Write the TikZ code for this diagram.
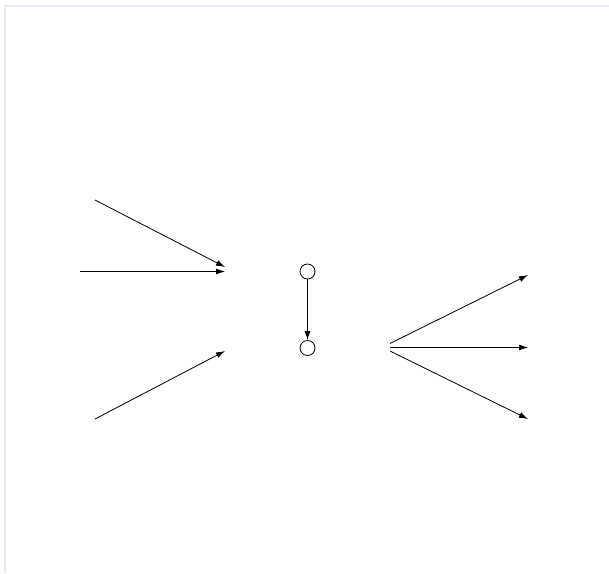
\documentclass[tikz,border=0pt]{standalone}
\usepackage{xcolor}
\usepackage{tikz}
\usetikzlibrary{arrows.meta}
\definecolor{framelav}{RGB}{234, 234, 244}

\begin{document}
\begin{tikzpicture}[x=1pt, y=-1pt, >={Latex[length=9pt, width=6pt]},
        state/.style={circle, draw, line width=0.8pt, minimum size=15pt, inner sep=0pt},
        edge/.style={->, line width=0.8pt}]
        \useasboundingbox (0, 0) rectangle (609, 573);

        % Frame
        \draw[line width=2pt, color=framelav] (5, 573) -- (5, 5.5) -- (609, 5.5);

        % Two states
        \node[state] (top) at (307.5, 271.5) {};
        \node[state] (bot) at (307.5, 348) {};
        \draw[edge] (top) -- (bot);

        % Incoming edges (left)
        \coordinate (inA) at (95, 200);
        \coordinate (inB) at (80, 271.5);
        \coordinate (inC) at (95, 419);
        \coordinate (endA) at (225, 267);
        \coordinate (endB) at (225, 271.5);
        \coordinate (endC) at (225, 351);
        \foreach \s/\e in {inA/endA, inB/endB, inC/endC} {
            \draw[edge] (\s) -- (\e);
        }

        % Outgoing edges (right)
        \coordinate (outA) at (390, 343.5);
        \coordinate (outB) at (390, 347.5);
        \coordinate (outC) at (390, 351);
        \coordinate (tipA) at (528, 275);
        \coordinate (tipB) at (528, 347.5);
        \coordinate (tipC) at (528, 419);
        \foreach \s/\e in {outA/tipA, outB/tipB, outC/tipC} {
            \draw[edge] (\s) -- (\e);
        }
    \end{tikzpicture}
\end{document}
